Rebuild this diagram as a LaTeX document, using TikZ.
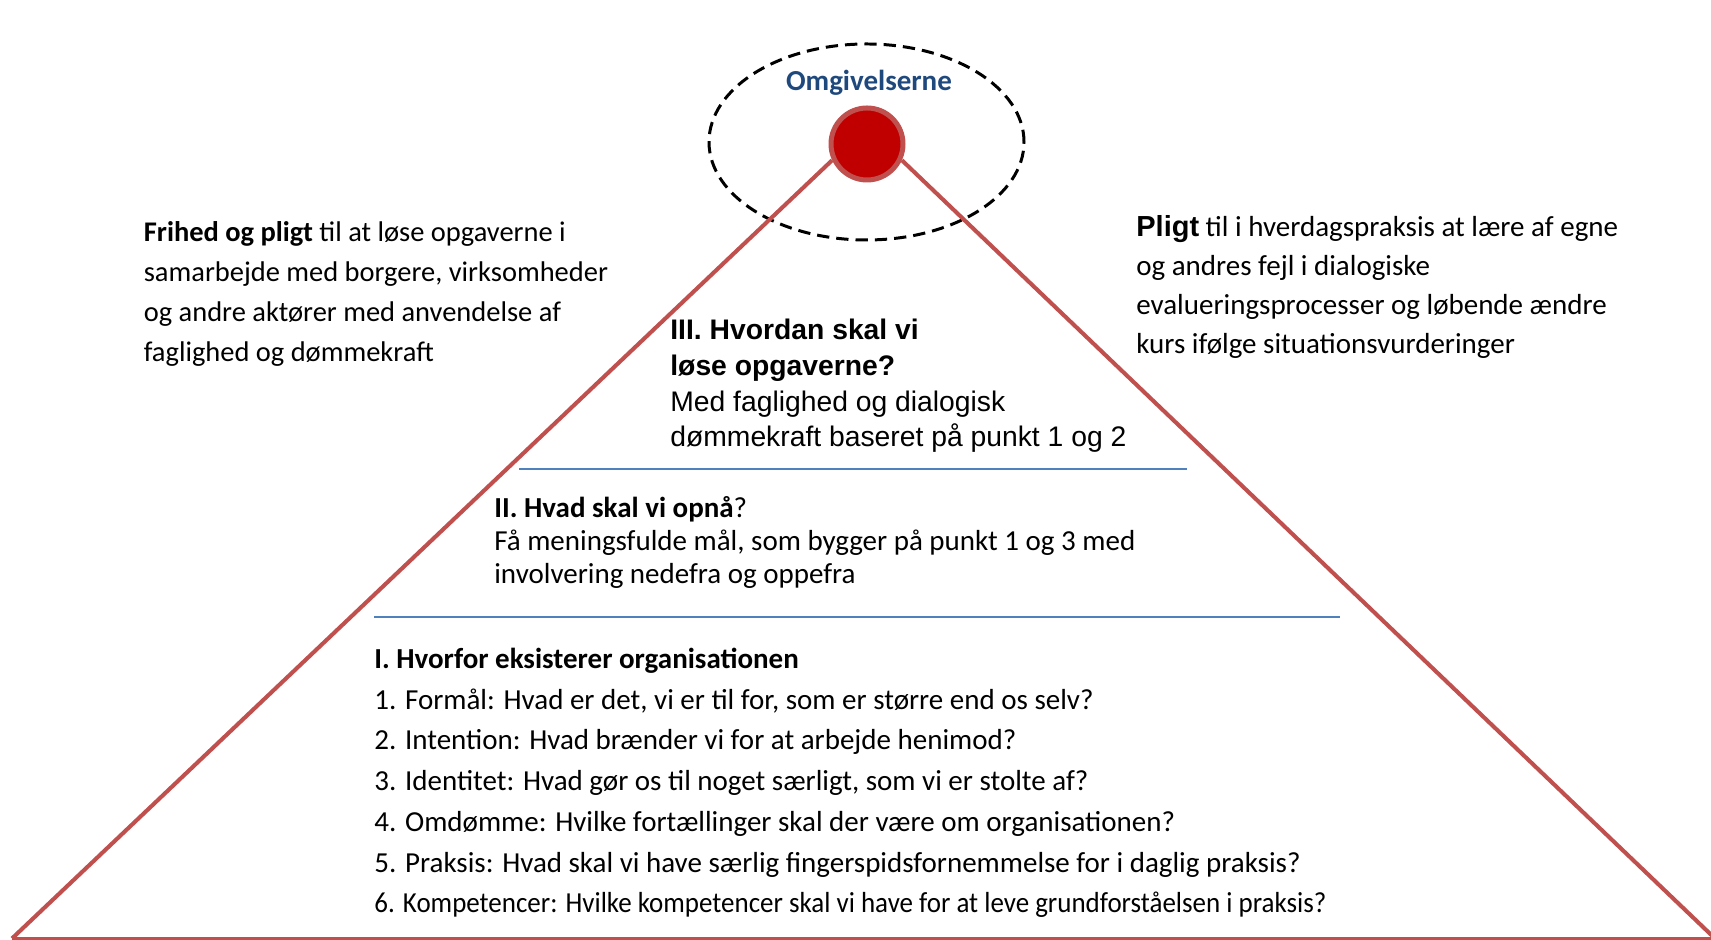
\documentclass[tikz,border=0pt]{standalone}
\usepackage{fontspec}
\setmainfont{Carlito}
\newfontfamily\arialfont{Liberation Sans}
\usepackage{xcolor}
\usepackage{tikz}
\definecolor{PYRed}{HTML}{C00000}
\definecolor{PYEdge}{HTML}{C0504D}
\definecolor{PYBlue}{HTML}{4F81BD}
\definecolor{PYNavy}{HTML}{1F497D}

\begin{document}
\begin{tikzpicture}[x=1cm,y=1cm,
  txt/.style={anchor=base west,align=left,inner sep=0pt,font=\fontsize{16.5}{22.8}\selectfont},
  edge/.style={PYEdge,line width=2.3pt},
  rule/.style={PYBlue,line width=.85pt}]
\path[use as bounding box] (0,0) rectangle (34.22,18.80);
% surroundings
\draw[black,line width=1.7pt,dash pattern=on 7pt off 4pt] (17.33,15.96) ellipse [x radius=3.15,y radius=1.96];
\node[txt,anchor=base,text=PYNavy,font=\fontsize{16.5}{20}\selectfont\bfseries] (env) at (17.38,16.98) {Omgivelserne};
% pyramid
\node[circle,minimum size=1.44cm,inner sep=0pt,fill=PYRed,draw=PYEdge,line width=.1cm] (dot) at (17.34,15.92) {};
\coordinate (bl) at (0.24,0.03);
\coordinate (br) at (34.30,0.03);
\draw[edge] (dot.205) -- (bl);
\draw[edge] (dot.335) -- (br);
\draw[PYEdge,line width=1.2pt] (bl) -- (br);
% side texts (base = last line)
\node[txt,font=\fontsize{16.2}{22.8}\selectfont] (freedom) at (2.87,11.56) {\textbf{Frihed og pligt} til at løse opgaverne i\\samarbejde med borgere, virksomheder\\og andre aktører med anvendelse af\\faglighed og dømmekraft};
\node[txt,font=\fontsize{16.5}{22.3}\selectfont] (duty) at (22.72,11.72) {{\arialfont\bfseries Pligt} til i hverdagspraksis at lære af egne\\og andres fejl i dialogiske\\evalueringsprocesser og løbende ændre\\kurs ifølge situationsvurderinger};
% levels
\node[txt,font=\arialfont\fontsize{16.1}{20.3}\selectfont] (how) at (13.40,9.86) {\textbf{III. Hvordan skal vi}\\\textbf{løse opgaverne?}\\Med faglighed og dialogisk\\dømmekraft baseret på punkt 1 og 2};
\draw[rule] (10.38,9.42) -- (23.74,9.42);
\node[txt,font=\fontsize{16.5}{18.8}\selectfont] (what) at (9.88,7.13) {\textbf{II. Hvad skal vi opnå}?\\Få meningsfulde mål, som bygger på punkt 1 og 3 med\\involvering nedefra og oppefra};
\draw[rule] (7.48,6.46) -- (26.80,6.46);
\node[txt,font=\fontsize{16.5}{23.2}\selectfont] (why) at (7.48,0.54) {\textbf{I. Hvorfor eksisterer organisationen}\\1. Formål: Hvad er det, vi er til for, som er større end os selv?\\2. Intention: Hvad brænder vi for at arbejde henimod?\\3. Identitet: Hvad gør os til noget særligt, som vi er stolte af?\\4. Omdømme: Hvilke fortællinger skal der være om organisationen?\\5. Praksis: Hvad skal vi have særlig fingerspidsfornemmelse for i daglig praksis?\\\scalebox{0.93}[1]{6. Kompetencer: Hvilke kompetencer skal vi have for at leve grundforståelsen i praksis?}};
\end{tikzpicture}
\end{document}
